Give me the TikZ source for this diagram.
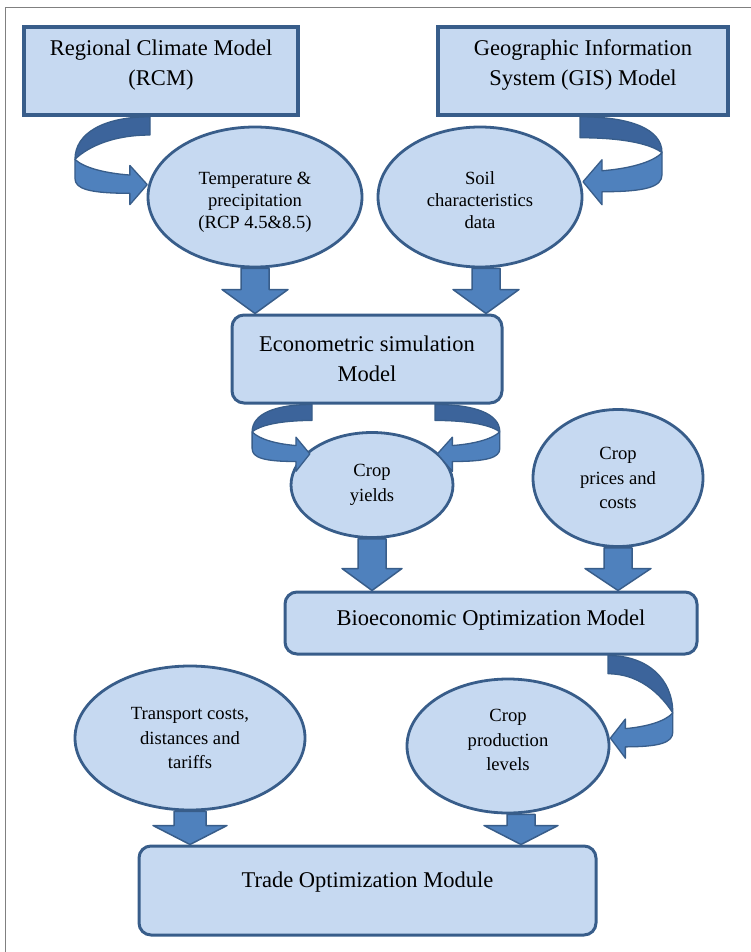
\documentclass[tikz,border=0pt]{standalone}
\usepackage{fontspec}
\setmainfont{Liberation Serif}
\usetikzlibrary{shapes.geometric, calc}
\definecolor{boxfill}{RGB}{198,217,241}
\definecolor{boxline}{RGB}{56,93,138}
\definecolor{arrowblue}{RGB}{79,129,189}
\definecolor{arrowdark}{RGB}{60,100,155}
\definecolor{framegray}{RGB}{128,128,128}
\newcommand{\lowpad}[1]{\rule[-#1]{0pt}{#1}}
\newcommand{\highpad}[1]{\rule{0pt}{#1}}

\tikzset{
  pics/curvedarrow/.style={code={
    % back of the ribbon
    \filldraw[fill=arrowdark, draw=boxline, line width=1.3pt, line join=round]
      (0,0) .. controls (50,0) and ({82},{12+0.5*#1}) .. ({82},{36+#1})
      .. controls ({72},{28+0.8*#1}) and (46,21) .. (0,21) -- cycle;
    % front of the ribbon with its head
    \filldraw[fill=arrowblue, draw=boxline, line width=1.3pt, line join=round]
      ({82},{36+#1}) -- ({82},{58+#1}) .. controls ({82},{70+#1}) and ({66},{75+#1}) .. ({22},{75+#1})
      -- ({22},{88+#1}) -- ({3},{65+#1}) -- ({22},{43+#1}) -- ({22},{54+#1})
      .. controls ({48},{52+#1}) and ({72},{46+#1}) .. ({82},{36+#1}) -- cycle;
  }},
  pics/curvedarrow/.default=0
}

\begin{document}
\begin{tikzpicture}[
    x=1pt, y=-1pt,
    modelbox/.style={rectangle, draw=boxline, fill=boxfill, line width=3.5pt, align=center, inner sep=0pt, font=\fontsize{22.5}{30}\selectfont},
    roundbox/.style={modelbox, rounded corners=12pt, line width=3pt},
    databubble/.style={ellipse, draw=boxline, fill=boxfill, line width=2.8pt, align=center, inner sep=0pt, font=\fontsize{18.6}{24.5}\selectfont},
    blockarrow/.style n args={3}{fill=arrowblue, draw=boxline, line width=1.5pt, line join=round,
      to path={([xshift=-#1]\tikztostart) -- ([xshift=-#1, yshift=#3]\tikztotarget) -- ([xshift=-#2, yshift=#3]\tikztotarget)
        -- (\tikztotarget) -- ([xshift=#2, yshift=#3]\tikztotarget) -- ([xshift=#1, yshift=#3]\tikztotarget) -- ([xshift=#1]\tikztostart) -- cycle}}
]
\useasboundingbox (0,0) rectangle (751,952);
\draw[framegray, line width=1pt] (5,952) -- (5,8) -- (751,8);

% models
\node[modelbox, minimum width=274pt, minimum height=88pt] (rcm) at (161,71) {Regional Climate Model\\(RCM)\lowpad{16pt}};
\node[modelbox, minimum width=290pt, minimum height=88pt] (gis) at (583,71) {Geographic Information\\System (GIS) Model\lowpad{16pt}};
\node[roundbox, minimum width=270pt, minimum height=88pt] (econ) at (367,359) {Econometric simulation\\Model};
\node[roundbox, minimum width=412pt, minimum height=62pt] (bioecon) at (491,623) {Bioeconomic Optimization Model\lowpad{10pt}};
\node[roundbox, minimum width=457pt, minimum height=89pt] (trade) at (367.5,890.5) {Trade Optimization Module\lowpad{21pt}};

% data
\node[databubble, minimum width=214pt, minimum height=140pt, font=\fontsize{18.6}{22}\selectfont] (temp) at (255,197) {\highpad{23pt}Temperature \&\\precipitation\\(RCP 4.5\&8.5)};
\node[databubble, minimum width=204pt, minimum height=140pt, font=\fontsize{18.6}{22}\selectfont] (soil) at (480,197) {\highpad{19pt}Soil\\characteristics\\data};
\node[databubble, minimum width=162pt, minimum height=105pt] (yields) at (372,485) {Crop\\yields};
\node[databubble, minimum width=170pt, minimum height=137pt] (prices) at (618,478) {Crop\\prices and\\costs};
\node[databubble, minimum width=230pt, minimum height=144pt] (transport) at (190,738) {Transport costs,\\distances and\\tariffs};
\node[databubble, minimum width=202pt, minimum height=134pt] (production) at (508,746) {Crop\\production\\levels\lowpad{12pt}};

% curved arrows
\pic[xscale=-0.915, yscale=0.87] at ([xshift=-11pt]rcm.south) {curvedarrow=13};
\pic at ([xshift=-3pt]gis.south) {curvedarrow};
\pic[xscale=-0.73, yscale=0.76] at ([xshift=-55pt]econ.south) {curvedarrow};
\pic[xscale=0.79, yscale=0.76] at ([xshift=68pt]econ.south) {curvedarrow};
\pic[xscale=0.79, yscale=0.87] at ([xshift=117pt]bioecon.south) {curvedarrow=30};

% block arrows
\coordinate (soilout) at ([xshift=6pt]soil.south);
\coordinate (prodout) at ([xshift=13pt]production.south);
\draw[blockarrow={14pt}{33pt}{24pt}] (temp.south) to (temp.south |- econ.north);
\draw[blockarrow={14pt}{33pt}{24pt}] (soilout) to (soilout |- econ.north);
\draw[blockarrow={14pt}{30pt}{22pt}] (yields.south) to (yields.south |- bioecon.north);
\draw[blockarrow={14pt}{33pt}{22pt}] (prices.south) to (prices.south |- bioecon.north);
\draw[blockarrow={16pt}{37pt}{19pt}] (transport.south) to (transport.south |- trade.north);
\draw[blockarrow={14pt}{37pt}{19pt}] (prodout) to (prodout |- trade.north);

\end{tikzpicture}
\end{document}
